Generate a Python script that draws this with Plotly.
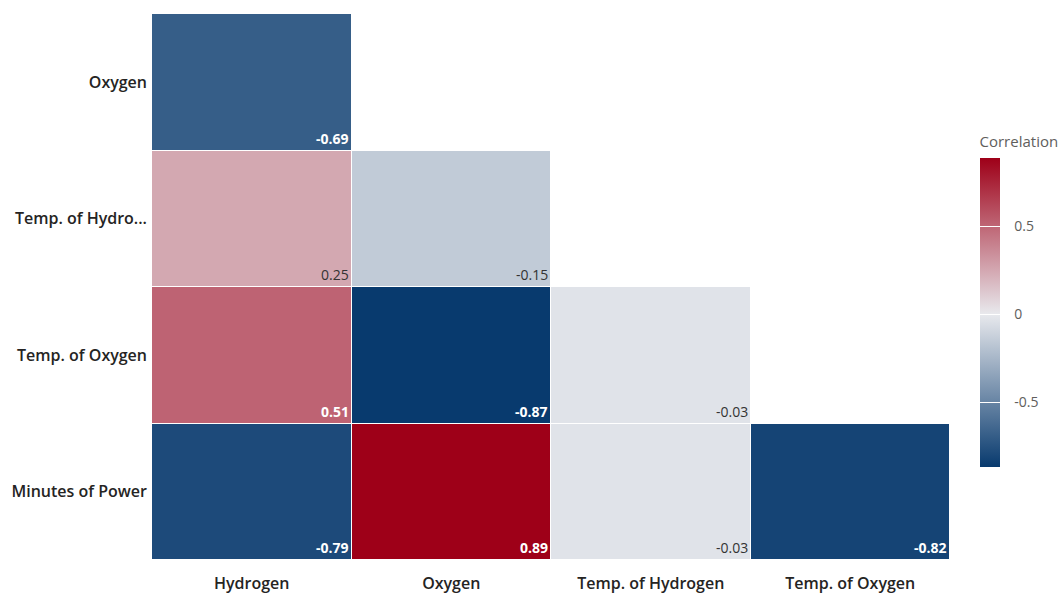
import plotly.graph_objects as go

# ---- data ----
x_labels = ["Hydrogen", "Oxygen", "Temp. of Hydrogen", "Temp. of Oxygen"]
y_labels = ["Oxygen", "Temp. of Hydro...", "Temp. of Oxygen", "Minutes of Power"]
row_oxygen = [-0.69, None, None, None]
row_temp_h = [0.25, -0.15, None, None]
row_temp_o = [0.51, -0.87, -0.03, None]
row_minutes = [-0.79, 0.89, -0.03, -0.82]
z = [row_oxygen, row_temp_h, row_temp_o, row_minutes]
cbar_ticks = [-0.5, 0, 0.5]
cbar_ticktext = ["-0.5", "0", "0.5"]

zmin, zmax = -0.87, 0.89
mid = (0 - zmin) / (zmax - zmin)
colorscale = [[0.0, "#083a6e"], [mid, "#e8e9ed"], [1.0, "#9e0018"]]

xs = list(range(len(x_labels)))
ys = list(range(len(y_labels)))
FONT = "Open Sans"

fig = go.Figure()
fig.add_trace(go.Heatmap(
    z=z, x=xs, y=ys,
    zmin=zmin, zmax=zmax,
    colorscale=colorscale,
    xgap=1, ygap=1,
    hoverongaps=False,
    colorbar=dict(
        title=dict(text="Correlation", side="top",
                   font=dict(size=15, color="#605e5c", family=FONT)),
        tickvals=cbar_ticks,
        ticktext=["\u00a0\u00a0\u00a0" + t for t in cbar_ticktext],
        ticks="inside", ticklen=20, tickcolor="white", tickwidth=1,
        tickfont=dict(size=14, color="#605e5c", family=FONT),
        thickness=20, lenmode="pixels", len=334,
        x=1.037, xanchor="left", xpad=0,
        y=0.476, yanchor="middle", ypad=0,
        outlinewidth=0,
    ),
))

annotations = []
for i, row in enumerate(z):
    for j, v in enumerate(row):
        if v is None:
            continue
        dark = abs(v) > 0.4
        annotations.append(dict(
            x=j + 0.5, y=i + 0.5, xref="x", yref="y",
            text=f"{v:.2f}",
            showarrow=False, xanchor="right", yanchor="bottom",
            xshift=-1, yshift=1,
            font=dict(size=14, color="white" if dark else "#333333", family=FONT,
                      weight=700 if dark else 400),
        ))

fig.update_layout(
    width=1060, height=597,
    margin=dict(l=152, r=110, t=14, b=37, autoexpand=False),
    paper_bgcolor="white", plot_bgcolor="white",
    font=dict(family=FONT, size=16, color="#252423"),
    annotations=annotations,
    xaxis=dict(tickvals=xs, ticktext=x_labels, range=[-0.5, 3.5], showgrid=False,
               zeroline=False, ticks="", ticklabelstandoff=12, automargin=False,
               tickfont=dict(size=16, weight=600)),
    yaxis=dict(tickvals=ys, ticktext=y_labels, range=[3.5, -0.5], showgrid=False,
               zeroline=False, ticks="", ticklabelstandoff=4, automargin=False,
               tickfont=dict(size=16, weight=600)),
)

fig.write_html("out.html")
